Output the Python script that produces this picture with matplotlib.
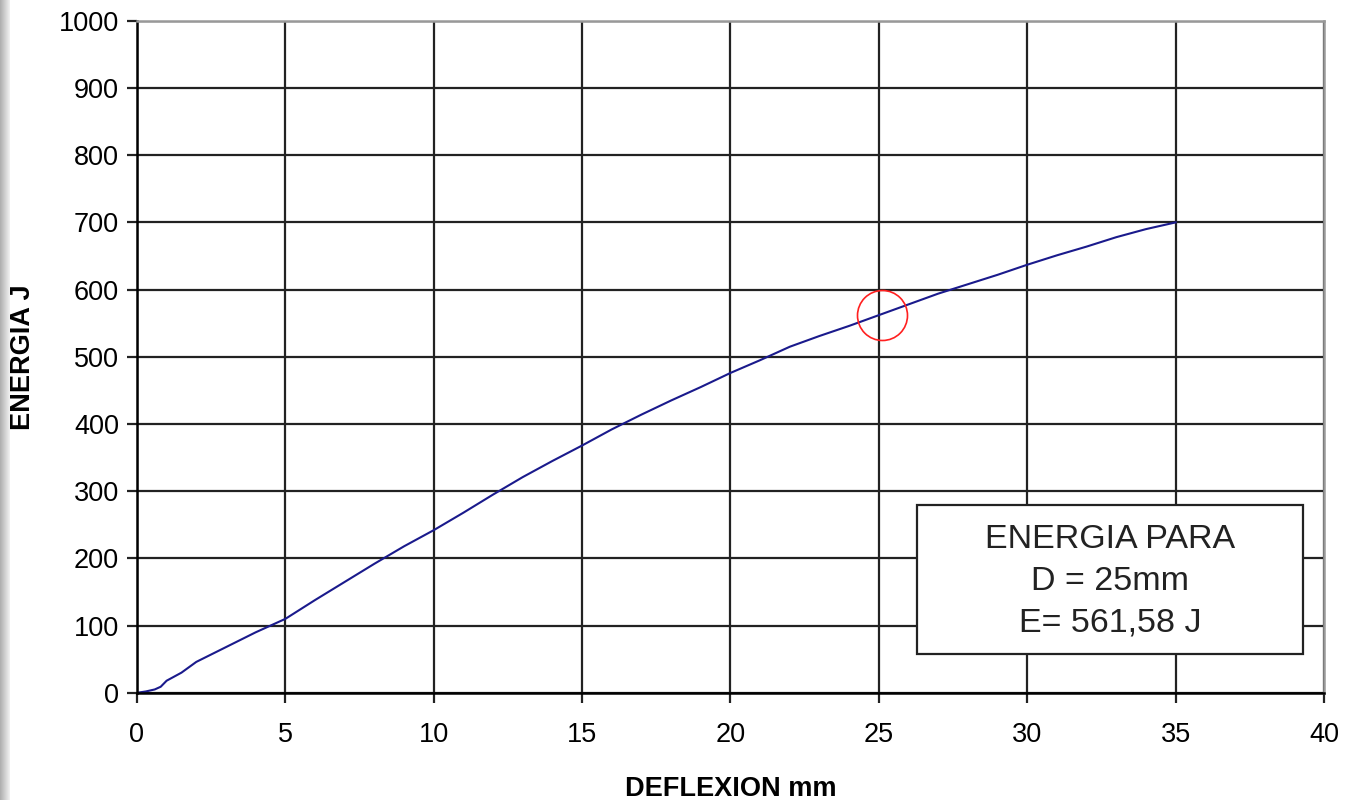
import numpy as np
import matplotlib.pyplot as plt
from matplotlib.patches import Rectangle

plt.rcParams['font.family'] = ['Liberation Sans', 'DejaVu Sans']

# Energy vs deflection curve
deflexion = [0, 0.3, 0.6, 0.8, 1.0, 1.5, 2.0, 3.0, 4.0, 5.0, 6.0, 7.0, 8.0, 9.0,
             10.0, 11.0, 12.0, 13.0, 14.0, 15.0, 16.0, 17.0, 18.0, 19.0, 20.0,
             21.0, 22.0, 23.0, 24.0, 25.0, 26.0, 27.0, 28.0, 29.0, 30.0, 31.0,
             32.0, 33.0, 34.0, 35.0]
energia = [0, 2, 5, 9, 18, 30, 46, 68, 90, 110, 138, 165, 192, 218,
           242, 268, 295, 321, 345, 368, 392, 414, 435, 455, 476,
           495, 515, 531, 546, 562, 578, 594, 608, 622, 637, 651,
           664, 678, 690, 700]

punto_d = 25.1
punto_e = 561.58
box_lines = ["ENERGIA PARA", "D = 25mm", "E= 561,58 J"]
x_ticks = [0, 5, 10, 15, 20, 25, 30, 35, 40]
y_ticks = [0, 100, 200, 300, 400, 500, 600, 700, 800, 900, 1000]

fig = plt.figure(figsize=(13.48, 8), dpi=100)

# gray strip at the left edge of the slide
strip = fig.add_axes([0, 0, 0.007, 1])
grad = np.linspace(0.68, 0.95, 50).reshape(1, -1)
strip.imshow(grad, aspect='auto', cmap='gray', vmin=0, vmax=1, extent=[0, 1, 0, 1])
strip.axis('off')

ax = fig.add_axes([0.1016, 0.134, 0.8806, 0.840])
ax.plot(deflexion, energia, color='#1a1a8c', lw=1.5)
ax.plot([punto_d], [punto_e], marker='o', ms=36, mfc='none', mec='#ff2020', mew=1.2)

ax.set_xlim(0, 40)
ax.set_ylim(0, 1000)
ax.set_xticks(x_ticks)
ax.set_yticks(y_ticks)
ax.grid(True, color='#222222', lw=1.6)
ax.set_axisbelow(True)
ax.tick_params(labelsize=19.5, length=7, width=1.6, color='#222222')
ax.tick_params(axis='x', pad=14)
ax.tick_params(axis='y', pad=6)

for s in ['left', 'bottom']:
    ax.spines[s].set_color('black')
    ax.spines[s].set_linewidth(1.8)
for s in ['right', 'top']:
    ax.spines[s].set_color('#999999')
    ax.spines[s].set_linewidth(1.8)

ax.set_xlabel("DEFLEXION mm", fontsize=19.5, fontweight='bold', labelpad=20)
ax.set_ylabel("ENERGIA J", fontsize=19.5, fontweight='bold', labelpad=16)

ax.add_patch(Rectangle((26.3, 58), 13.0, 221, facecolor='white',
                       edgecolor='#222222', lw=1.6, zorder=5))
ax.text(32.8, 166, "\n".join(box_lines), ha='center', va='center',
        fontsize=24.5, color='#222222', linespacing=1.45, zorder=6)

plt.savefig("out.png", dpi=100)
plt.close()
